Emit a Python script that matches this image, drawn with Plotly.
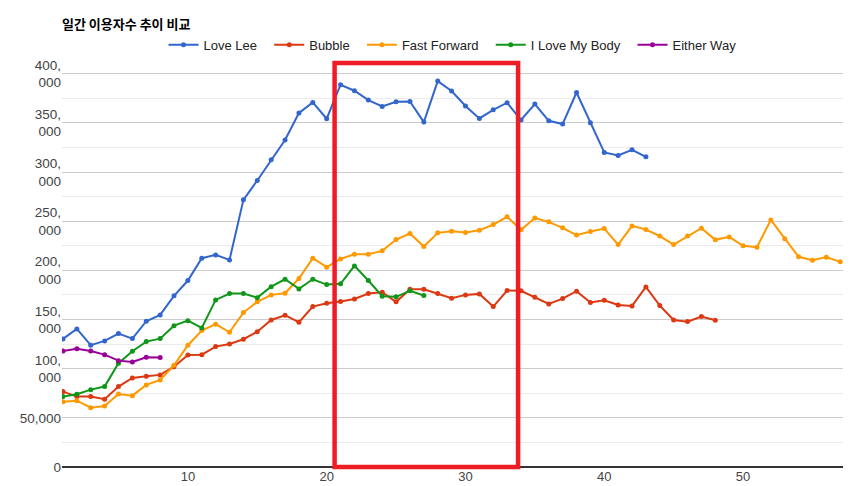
import plotly.graph_objects as go

days_love_lee = list(range(1, 44))
love_lee = [130300, 140500, 123900, 128300, 135700, 130600, 148300, 154700, 174100, 189700,
            212400, 215800, 210700, 271800, 291500, 312500, 332600, 360100, 370900, 354300,
            388900, 382800, 373300, 366800, 371600, 371900, 350900, 392600, 382500, 367200,
            354600, 363400, 370600, 353000, 369200, 352200, 348900, 381000, 350200, 320000,
            316900, 322700, 315600]

days_bubble = list(range(1, 49))
bubble = [76700, 71600, 71600, 68900, 81800, 90600, 92300, 93700, 102100, 114000,
          114300, 122500, 125200, 130000, 137700, 149600, 154400, 147300, 163200, 166600,
          168300, 171000, 176400, 177800, 168000, 180900, 180900, 176400, 171700, 175100,
          176100, 163200, 179500, 179200, 172800, 165900, 171300, 178900, 167300, 169700,
          164900, 163900, 183200, 164200, 149600, 147900, 153000, 149300]

days_fast_forward = list(range(1, 58))
fast_forward = [66500, 67500, 60400, 62100, 74300, 72600, 83500, 88600, 103500, 123900,
                138800, 145300, 137100, 157100, 168000, 175100, 176800, 191700, 212400, 203300,
                211700, 216500, 216500, 219900, 231400, 237500, 224300, 238200, 239900, 238500,
                240900, 246600, 254500, 241300, 253200, 249400, 243300, 235900, 239500, 242600,
                226300, 245300, 241600, 234900, 226300, 234900, 243000, 231100, 234100, 225000,
                223600, 251400, 232100, 213800, 210400, 213500, 208700]

days_body = list(range(1, 28))
i_love_my_body = [71600, 74000, 78700, 81800, 105600, 117800, 127600, 130600, 143800, 148900,
                  141500, 170000, 176400, 176400, 172300, 183500, 191000, 181200, 191000, 185600,
                  186300, 204600, 189700, 173800, 173100, 179200, 174400]

days_either_way = list(range(1, 9))
either_way = [118100, 120400, 118100, 114300, 108200, 106900, 111700, 111300]

y_tick_vals = [0, 50000, 100000, 150000, 200000, 250000, 300000, 350000, 400000]
y_tick_text = ['0', '50,000', '100,<br>000', '150,<br>000', '200,<br>000',
               '250,<br>000', '300,<br>000', '350,<br>000', '400,<br>000']

# highlighted day range (red box)
highlight_start = 20.57
highlight_end = 33.79

series = [
    ('Love Lee', days_love_lee, love_lee, '#3366cc'),
    ('Bubble', days_bubble, bubble, '#dc3912'),
    ('Fast Forward', days_fast_forward, fast_forward, '#ff9900'),
    ('I Love My Body', days_body, i_love_my_body, '#109618'),
    ('Either Way', days_either_way, either_way, '#990099'),
]

fig = go.Figure()
for i, (name, days, values, color) in enumerate(series):
    # a bit of extra room between legend entries
    label = name if i == len(series) - 1 else name + '\u00a0\u00a0'
    fig.add_trace(go.Scatter(x=days, y=values, name=label, mode='lines+markers',
                             line=dict(color=color, width=2),
                             marker=dict(color=color, size=5)))

fig.add_shape(type='rect', xref='x', yref='paper',
              x0=highlight_start, x1=highlight_end, y0=0, y1=1,
              line=dict(color='#ee1c25', width=4.5))

fig.update_layout(
    width=850, height=486,
    margin=dict(l=62, r=7, t=63, b=19),
    plot_bgcolor='white', paper_bgcolor='white',
    font=dict(family='Liberation Sans, Arial, sans-serif', color='#444444', size=12),
    title=dict(text='<b>일간 이용자수 추이 비교</b>', x=62 / 850, xanchor='left',
               y=1 - 24 / 486, yanchor='middle',
               font=dict(family='Noto Sans CJK KR', size=13, color='#000000')),
    legend=dict(orientation='h', x=0.5, xanchor='center', y=1.045, yanchor='middle',
                font=dict(size=13, color='#222222'), itemwidth=30),
    showlegend=True,
)

fig.update_xaxes(range=[0.93, 57.2], tickvals=[10, 20, 30, 40, 50], showgrid=False,
                 zeroline=False, showline=False, ticks='', automargin=False,
                 tickfont=dict(size=13, color='#444444'))
fig.update_yaxes(range=[0, 411000], tickvals=y_tick_vals, ticktext=y_tick_text,
                 showgrid=True, gridcolor='#cccccc', gridwidth=1,
                 minor=dict(dtick=25000, showgrid=True, gridcolor='#ebebeb'),
                 zeroline=True, zerolinecolor='#333333', zerolinewidth=1.5,
                 ticks='', automargin=False, tickfont=dict(size=13.5, color='#444444'))

fig.write_html("out.html", config={'displayModeBar': False},
               post_script="document.body.style.margin='0';")
